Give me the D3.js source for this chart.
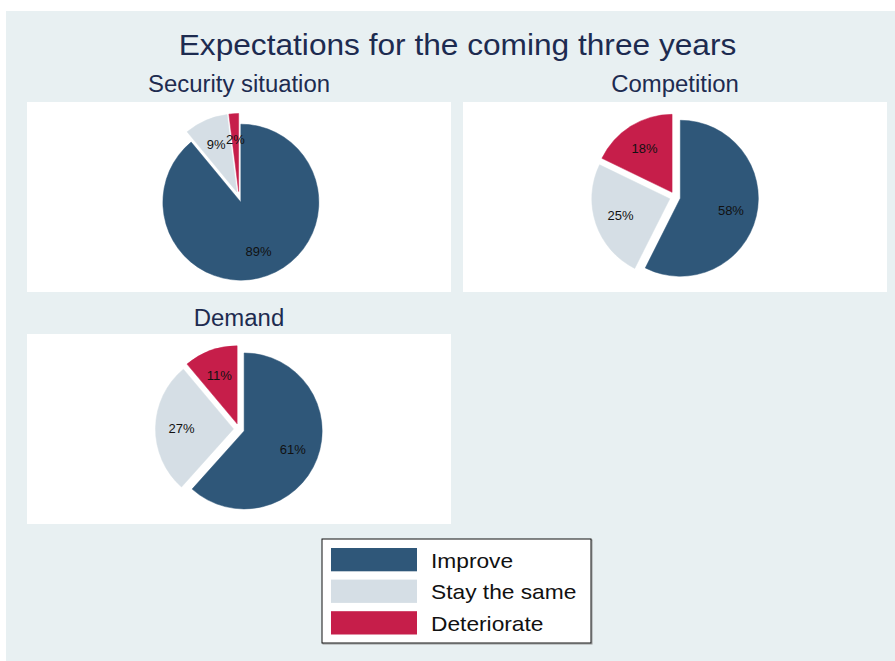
<!DOCTYPE html>
<html>
<head>
<meta charset="utf-8">
<script src="https://cdn.jsdelivr.net/npm/d3@7"></script>
<style>
  html, body { margin: 0; padding: 0; background: #ffffff; }
  svg { display: block; font-family: "Liberation Sans", Arial, sans-serif; }
</style>
</head>
<body>
<svg id="chart" width="895" height="661"></svg>
<script>
// ---- data ----
const title = "Expectations for the coming three years";
const categories = ["Improve", "Stay the same", "Deteriorate"];
const panelTitles = ["Security situation", "Competition", "Demand"];
const securityValues = [89, 9, 2];
const competitionValues = [58, 25, 18];
const demandValues = [61, 27, 11];
const colors = ["#2f5779", "#d5dee5", "#c61e4a"];

const panelValues = [securityValues, competitionValues, demandValues];

// ---- layout ----
const svg = d3.select("#chart");
svg.append("rect").attr("x", 6).attr("y", 11).attr("width", 889).attr("height", 650).attr("fill", "#e8f0f2");

svg.append("text")
  .attr("transform", "translate(457.5,55) scale(1.055,1)")
  .attr("text-anchor", "middle")
  .attr("font-size", 30)
  .attr("fill", "#1d2b50")
  .text(title);

const panels = [
  { x: 27, y: 102, w: 424, h: 190, ty: 92 },
  { x: 463, y: 102, w: 424, h: 190, ty: 92 },
  { x: 27, y: 334, w: 424, h: 190, ty: 326 }
];

const color = d3.scaleOrdinal().domain(categories).range(colors);
const pie = d3.pie().sort(null).value(d => d.value).startAngle(0).endAngle(2 * Math.PI);
const r = 78, explode = 5.5, labelR = 52;
const arc = d3.arc().innerRadius(0).outerRadius(r);

panels.forEach((p, i) => {
  svg.append("rect").attr("x", p.x).attr("y", p.y).attr("width", p.w).attr("height", p.h).attr("fill", "#ffffff");
  const cx = p.x + p.w / 2, cy = p.y + p.h / 2;
  svg.append("text")
    .attr("transform", `translate(${cx},${p.ty}) scale(1.04,1)`)
    .attr("text-anchor", "middle")
    .attr("font-size", 23)
    .attr("fill", "#1d2b50")
    .text(panelTitles[i]);

  const data = categories.map((c, k) => ({ cat: c, value: panelValues[i][k] }));
  const g = svg.append("g").attr("transform", `translate(${cx},${cy})`);
  const slices = g.selectAll("g.slice").data(pie(data)).enter().append("g")
    .attr("transform", d => {
      const a = (d.startAngle + d.endAngle) / 2;
      return `translate(${explode * Math.sin(a)},${-explode * Math.cos(a)})`;
    });
  slices.append("path")
    .attr("d", arc)
    .attr("fill", d => color(d.data.cat))
    .attr("stroke", d => color(d.data.cat))
    .attr("stroke-width", 0.5);
  slices.append("text")
    .attr("x", d => labelR * Math.sin((d.startAngle + d.endAngle) / 2))
    .attr("y", d => -labelR * Math.cos((d.startAngle + d.endAngle) / 2))
    .attr("dy", "0.36em")
    .attr("text-anchor", "middle")
    .attr("font-size", 13)
    .attr("fill", "#111")
    .text(d => d.data.value + "%");
});

// ---- legend ----
const lg = svg.append("g");
lg.append("rect").attr("x", 323).attr("y", 540).attr("width", 269).attr("height", 104)
  .attr("fill", "none").attr("stroke", "#999").attr("stroke-width", 1);
lg.append("rect").attr("x", 322).attr("y", 539).attr("width", 269).attr("height", 104)
  .attr("fill", "#ffffff").attr("stroke", "#111").attr("stroke-width", 1);
categories.forEach((c, k) => {
  const y0 = 548 + k * 31.6;
  lg.append("rect").attr("x", 331).attr("y", y0).attr("width", 86).attr("height", 23.3).attr("fill", color(c));
  lg.append("text")
    .attr("transform", `translate(431,${y0 + 19.5}) scale(1.11,1)`)
    .attr("font-size", 20.5)
    .attr("fill", "#111")
    .text(c);
});
</script>
</body>
</html>
